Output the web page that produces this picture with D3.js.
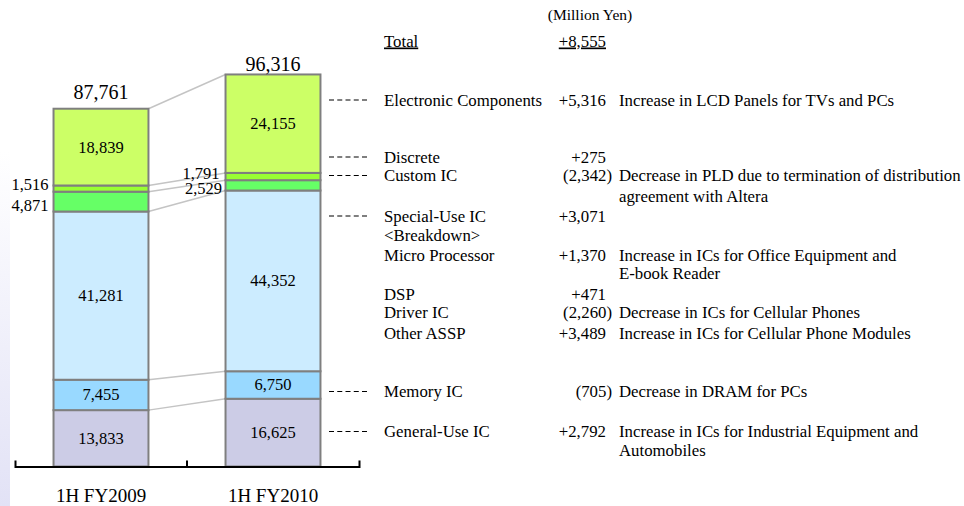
<!DOCTYPE html>
<html>
<head>
<meta charset="utf-8">
<script src="https://cdnjs.cloudflare.com/ajax/libs/d3/7.8.5/d3.min.js"></script>
<style>
  body { margin: 0; background: #fff; }
  svg { display: block; font-family: "Liberation Serif", "Times New Roman", serif; }
</style>
</head>
<body>
<div id="chart"></div>
<script>
// ------- Data -------
const categories = ["1H FY2009", "1H FY2010"];
const segments = ["General-Use IC", "Memory IC", "Special-Use IC", "Custom IC", "Discrete", "Electronic Components"];
const fy2009 = [13833, 7455, 41281, 4871, 1516, 18839];
const fy2010 = [16625, 6750, 44352, 2529, 1791, 24155];
const totals = [87761, 96316];
const segColors = ["#CCCCE6", "#99D9FF", "#CCECFF", "#66FF66", "#99FF33", "#CCFF66"];
// segments whose label sits outside, left of the bar
const outsideLabels = ["Custom IC", "Discrete"];

// right-hand breakdown table
const rowLabels = ["Electronic Components", "Discrete", "Custom IC", "Special-Use IC", "<Breakdown>",
  "Micro Processor", "DSP", "Driver IC", "Other ASSP", "Memory IC", "General-Use IC"];
const rowValues = ["+5,316", "+275", "(2,342)", "+3,071", "", "+1,370", "+471", "(2,260)", "+3,489", "(705)", "+2,792"];
const rowNotes = [
  ["Increase in LCD Panels for TVs and PCs"],
  [],
  ["Decrease in PLD due to termination of distribution", "agreement with Altera"],
  [],
  [],
  ["Increase in ICs for Office Equipment and", "E-book Reader"],
  [],
  ["Decrease in ICs for Cellular Phones"],
  ["Increase in ICs for Cellular Phone Modules"],
  ["Decrease in DRAM for PCs"],
  ["Increase in ICs for Industrial Equipment and", "Automobiles"]
];
const rowDashed = [true, true, true, true, false, false, false, false, false, true, true];
const totalLabel = "Total";
const totalChange = "+8,555";
const unitLabel = "(Million Yen)";

// ------- Layout -------
const W = 964, H = 506;
const rowY = [105.5, 162.5, 181, 221.5, 240.5, 260.5, 299.5, 318, 338.5, 397, 437];
const noteGap = [0, 0, 21, 0, 0, 18, 0, 0, 0, 0, 19];

const svg = d3.select("#chart").append("svg")
  .attr("width", W).attr("height", H);

// faint lavender strip on the left edge
const defs = svg.append("defs");
const grad = defs.append("linearGradient").attr("id", "edge")
  .attr("x1", 0).attr("y1", 0).attr("x2", 0).attr("y2", 1);
grad.append("stop").attr("offset", "0.3").attr("stop-color", "#fff");
grad.append("stop").attr("offset", "1").attr("stop-color", "#E2E2F6");
svg.append("rect").attr("x", 0).attr("y", 0).attr("width", 10).attr("height", H)
  .attr("fill", "url(#edge)");

// ------- Scales -------
const x = d3.scaleBand()
  .domain(categories)
  .range([15, 359])
  .paddingInner(0.448)
  .paddingOuter(0.224);

const y = d3.scaleLinear()
  .domain([0, d3.max(totals)])
  .range([466.5, 74]);

const color = d3.scaleOrdinal().domain(segments).range(segColors);

// stacked table
const rows = categories.map((c, i) => {
  const r = { cat: c };
  segments.forEach((s, j) => { r[s] = (i === 0 ? fy2009 : fy2010)[j]; });
  return r;
});
const stacked = d3.stack().keys(segments)(rows);

// ------- Connector lines between the bars -------
const boundaries = stacked.map(layer => layer.map(d => d[1]));
svg.append("g").selectAll("line")
  .data(boundaries)
  .join("line")
  .attr("x1", x(categories[0]) + x.bandwidth())
  .attr("x2", x(categories[1]))
  .attr("y1", d => y(d[0]))
  .attr("y2", d => y(d[1]))
  .attr("stroke", "#C4C4C4")
  .attr("stroke-width", 1.5);

// ------- Bars -------
const layers = svg.append("g").selectAll("g")
  .data(stacked)
  .join("g")
  .attr("fill", d => color(d.key));

layers.selectAll("rect")
  .data(d => d.map(v => Object.assign(v, { key: d.key })))
  .join("rect")
  .attr("x", d => x(d.data.cat))
  .attr("width", x.bandwidth())
  .attr("y", d => y(d[1]))
  .attr("height", d => y(d[0]) - y(d[1]))
  .attr("stroke", "#7F7F7F")
  .attr("stroke-width", 2);

// segment labels
const labelDy = { "Discrete": [-4, -3], "Custom IC": [3.5, 3] };
const labelDx = { "Discrete": [5, 6], "Custom IC": [5, 3.5] };
layers.selectAll("text")
  .data(d => d)
  .join("text")
  .attr("fill", "#000")
  .attr("font-size", 16.5)
  .attr("dominant-baseline", "central")
  .attr("text-anchor", d => outsideLabels.includes(d.key) ? "end" : "middle")
  .attr("x", d => {
    const i = categories.indexOf(d.data.cat);
    return outsideLabels.includes(d.key)
      ? x(d.data.cat) - labelDx[d.key][i]
      : x(d.data.cat) + x.bandwidth() / 2;
  })
  .attr("y", d => {
    const i = categories.indexOf(d.data.cat);
    const mid = (y(d[0]) + y(d[1])) / 2;
    return outsideLabels.includes(d.key) ? mid + labelDy[d.key][i] : mid;
  })
  .text(d => d3.format(",")(d.data[d.key]));

// totals above the bars
const totalGap = [10, 3.5];
svg.append("g").selectAll("text")
  .data(totals)
  .join("text")
  .attr("x", (d, i) => x(categories[i]) + x.bandwidth() / 2)
  .attr("y", (d, i) => y(d) - totalGap[i])
  .attr("text-anchor", "middle")
  .attr("font-size", 20)
  .text(d => d3.format(",")(d));

// ------- Axis -------
const axisG = svg.append("g")
  .attr("transform", `translate(0,${y(0)})`)
  .call(d3.axisBottom(x).tickSizeInner(0).tickSizeOuter(-6).tickPadding(22));
axisG.select(".domain").attr("stroke", "#000").attr("stroke-width", 2);
axisG.selectAll("text")
  .attr("font-size", 19)
  .attr("font-family", "Liberation Serif, Times New Roman, serif")
  .attr("fill", "#000");
// tick between the two bars
const midX = x(categories[1]) - x.step() * x.paddingInner() / 2;
axisG.append("line")
  .attr("x1", midX).attr("x2", midX)
  .attr("y1", 0).attr("y2", -6)
  .attr("stroke", "#000").attr("stroke-width", 2);

// ------- Breakdown table -------
const labelX = 384, valueX = 606, noteX = 619;
const table = svg.append("g").attr("font-size", 16.8).attr("fill", "#000");

table.append("text")
  .attr("x", 590).attr("y", 20)
  .attr("text-anchor", "middle")
  .attr("font-size", 15.5)
  .text(unitLabel);

table.append("text").attr("x", labelX).attr("y", 46.5).text(totalLabel)
  .attr("text-decoration", "underline");
table.append("text").attr("x", valueX).attr("y", 46.5).attr("text-anchor", "end")
  .attr("text-decoration", "underline").text(totalChange);

const row = table.selectAll("g.row")
  .data(rowLabels)
  .join("g")
  .attr("class", "row")
  .attr("transform", (d, i) => `translate(0,${rowY[i]})`);

row.filter((d, i) => rowDashed[i])
  .append("line")
  .attr("x1", 329).attr("x2", 367)
  .attr("y1", -5.5).attr("y2", -5.5)
  .attr("stroke", "#000")
  .attr("stroke-width", 1.2)
  .attr("stroke-dasharray", "5,3.25");

row.append("text").attr("x", labelX).text(d => d);

row.append("text")
  .attr("x", (d, i) => rowValues[i].startsWith("(") ? valueX + 6 : valueX)
  .attr("text-anchor", "end")
  .text((d, i) => rowValues[i]);

row.each(function (d, i) {
  d3.select(this).selectAll("text.note")
    .data(rowNotes[i])
    .join("text")
    .attr("class", "note")
    .attr("x", noteX)
    .attr("y", (n, k) => k * noteGap[i])
    .text(n => n);
});
</script>
</body>
</html>
